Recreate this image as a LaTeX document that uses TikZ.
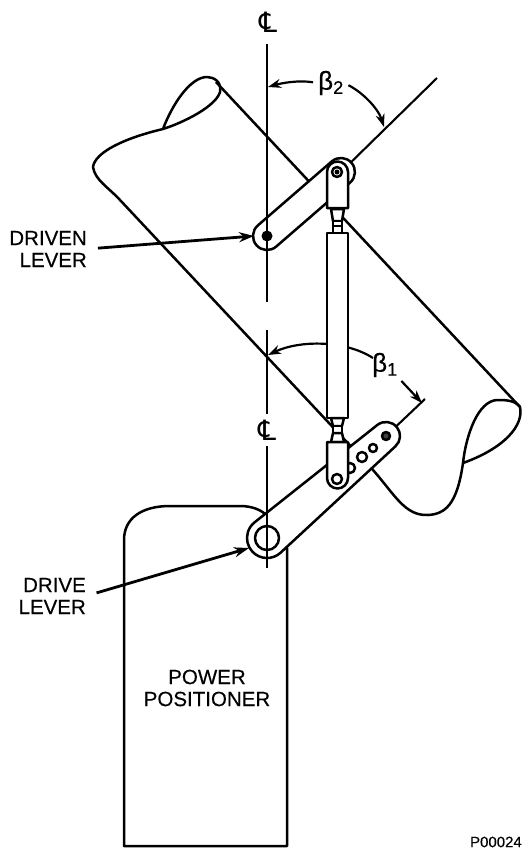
\documentclass[tikz,border=0pt]{standalone}
\usepackage{fontspec}
\setmainfont{Liberation Sans}[FakeBold=0.35]
\newfontfamily\clfont{DejaVu Sans}
\usetikzlibrary{arrows.meta}

\begin{document}
\begin{tikzpicture}[
  x=1pt,y=-1pt,
  lbl/.style={inner sep=0pt,align=right,font=\fontsize{20.5}{22}\selectfont},
  grk/.style={inner sep=0pt,font=\fontsize{26}{26}\selectfont},
  clsym/.style={inner sep=0pt,font=\fontsize{28}{28}\clfont},
  edge/.style={line width=2.5pt,line join=round},
  part/.style={edge,fill=white},
  thinl/.style={line width=2.1pt},
  dim/.style={line width=2.2pt,-{Stealth[length=13pt,width=9pt]},shorten <=5pt},
  lead/.style={line width=2.8pt,-{Stealth[length=15pt,width=10pt]},shorten <=11pt}
]
\useasboundingbox (0,0) rectangle (522,849);

\coordinate (drivena) at (267,236);
\coordinate (drivenb) at (341,172);
\coordinate (drivea) at (267,538);
\coordinate (driveb) at (386,436);

% power positioner
\draw[edge] (287,548) -- (287,846) -- (124,846) -- (124,540)
  .. controls (124,518) and (142,506) .. (170,506) -- (240,506)
  .. controls (252,506) and (262,510) .. (267,516);

% tube
\draw[edge] (120,200) .. controls (108,187) and (95,180) .. (93,167)
  .. controls (95,152) and (125,138) .. (163,129)
  .. controls (185,122) and (216,106) .. (220,92)
  .. controls (222,82) and (214,77) .. (207,77)
  .. controls (190,77) and (172,105) .. (163,129);
\draw[edge] (120,200) -- (373,470)
  .. controls (395,495) and (405,516) .. (428,515)
  .. controls (445,514) and (457,505) .. (463,463);
\draw[edge] (216,82) -- (520,407);
\draw[edge] (463,463) .. controls (466,435) and (478,401) .. (497,400)
  .. controls (505,400) and (515,400) .. (520,407)
  .. controls (524,425) and (505,448) .. (463,463);

% center lines of levers
\draw[thinl] (drivenb) -- (437,78);
\draw[thinl] (driveb) -- (425,399);

% levers
\draw[part] (drivena) ++(49.1:14) arc[start angle=49.1,end angle=229.1,radius=14]
  -- ++(-40.9:97.8) arc[start angle=229.1,end angle=409.1,radius=14] -- cycle;
\draw[part] (drivea) ++(47.2:20) arc[start angle=47.2,end angle=231.6,radius=20]
  -- (377.3,425) arc[start angle=231.6,end angle=407.2,radius=14] -- cycle;
\draw[part] (drivea) circle[radius=12];
\draw[part] (350,468) circle[radius=5];
\draw[part] (362,457) circle[radius=5];
\draw[part] (373,448) circle[radius=4];
\draw[edge,fill=black!75] (driveb) circle[radius=4];
\fill (drivena) circle[radius=5.5];

% angle marks, passing behind the rod
\node[grk] (btwo) at (331,83) {β\textsubscript{2}};
\node[grk] (bone) at (385,365) {β\textsubscript{1}};
\coordinate (btwotip) at (268,87);
\coordinate (btwoend) at (384,127);
\coordinate (bonefrom) at (373,358);
\coordinate (bonetip) at (268,355);
\coordinate (boneend) at (422,403);
\draw[dim] (btwo.west) .. controls (298,80) and (282,83) .. (btwotip);
\draw[dim] (btwo.east) .. controls (362,92) and (378,108) .. (btwoend);
\draw[dim,shorten <=0pt] (bonefrom) .. controls (345,340) and (300,340) .. (bonetip);
\draw[dim] (bone.south east) -- (boneend);

% rod
\draw[part] (327,208) -- (327,172) arc[start angle=180,end angle=360,radius=10.5]
  -- (348,208) -- cycle;
\draw[part] (331,209) -- (344,209) -- (342,221) -- (333,221) -- cycle;
\draw[part] (333,221) rectangle (342,233);
\draw[edge] (333,226) -- (342,226);
\draw[part] (327,233) rectangle (348,418);
\draw[part] (331,418) -- (344,418) -- (342,426) -- (333,426) -- cycle;
\draw[part] (333,426) rectangle (342,433);
\draw[part] (333,433) -- (342,433) -- (344,442) -- (331,442) -- cycle;
\draw[part] (327,442) -- (327,478) arc[start angle=180,end angle=0,radius=10.5]
  -- (348,442) -- cycle;
\draw[part] (337,479) circle[radius=5];
\draw[edge] (337,172) circle[radius=5];
\fill (337,172) circle[radius=2.5];

% center lines
\node[clsym] (cltop) at (268,22) {℄};
\node[clsym] (clmid) at (267,430) {℄};
\draw[thinl] (267,44) -- (267,302);
\draw[thinl] (267,330) -- (267,414);
\draw[thinl] (267,446) -- (267,568);

% texts and leaders
\node[lbl,anchor=east] (drivenlbl) at (87,249) {DRIVEN\\LEVER};
\node[lbl,anchor=east] (drivelbl) at (86,596) {DRIVE\\LEVER};
\node[lbl,align=center] (powerlbl) at (207,688) {POWER\\POSITIONER};
\node[inner sep=0pt,anchor=east,font=\fontsize{15}{15}\selectfont] (partno) at (522,842) {P00024};
\coordinate (driventip) at (254,236);
\coordinate (drivetip) at (249,548);
\draw[lead] (drivenlbl.east) -- (driventip);
\draw[lead] (drivelbl.east) -- (drivetip);
\end{tikzpicture}
\end{document}
